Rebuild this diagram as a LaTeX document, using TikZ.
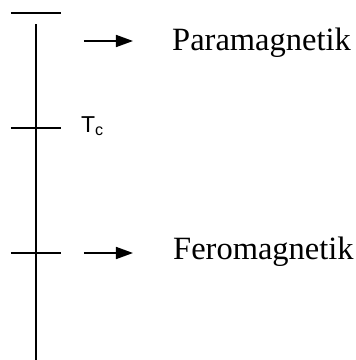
\documentclass[tikz,border=0pt]{standalone}
\usepackage{fontspec}
\setmainfont{Liberation Serif}
\newfontfamily\labelfont{Liberation Sans}
\usetikzlibrary{arrows.meta}
\tikzset{
  axisline/.style={line width=1.6pt},
  phasearrow/.style={line width=1.6pt,-{Triangle[length=17pt,width=12pt]}},
  phasetext/.style={anchor=base west,inner sep=0pt,font=\fontsize{32.5}{38}\selectfont},
}
\begin{document}
\begin{tikzpicture}[x=1pt,y=1pt]
			\useasboundingbox (0,0) rectangle (356,360);
			\coordinate (bar1) at (11,347);
			\coordinate (bar2) at (61,347);
			\coordinate (axtop) at (36,336);
			\coordinate (axbot) at (36,0);
			\coordinate (tc1) at (11,232);
			\coordinate (tc2) at (61,232);
			\coordinate (fm1) at (11,107);
			\coordinate (fm2) at (61,107);
			\coordinate (pa1) at (84,319);
			\coordinate (pa2) at (133,319);
			\coordinate (fa1) at (84,107);
			\coordinate (fa2) at (133,107);
			\draw[axisline] (bar1) -- (bar2);
			\draw[axisline] (axtop) -- (axbot);
			\draw[axisline] (tc1) -- (tc2);
			\draw[axisline] (fm1) -- (fm2);
			\draw[phasearrow] (pa1) -- (pa2);
			\draw[phasearrow] (fa1) -- (fa2);
			\node[anchor=base west,inner sep=0pt,font=\labelfont\fontsize{23}{26}\selectfont] (tc) at (81,228) {T\textsubscript{c}};
			\node[phasetext] (para) at (172,310) {Paramagnetik};
			\node[phasetext] (fero) at (173,100) {Feromagnetik};
		\end{tikzpicture}
\end{document}
